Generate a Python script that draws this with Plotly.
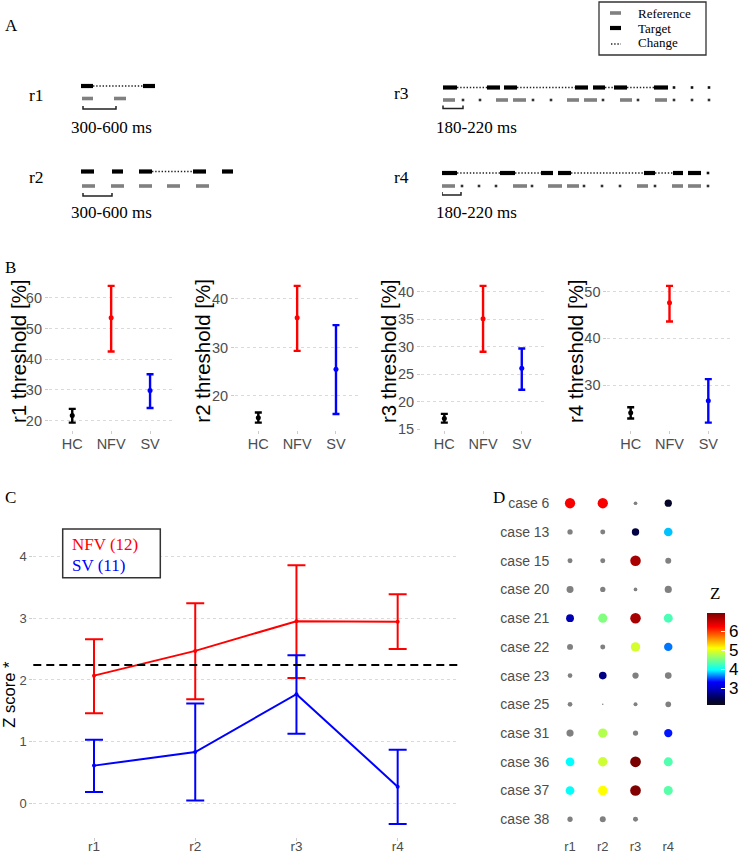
import numpy as np
import plotly.graph_objects as go

W, H = 750, 854


def px(x):
    return x / W


def py(y):
    return 1 - y / H


SERIF = "Liberation Serif, Times New Roman, serif"
SANS = "Liberation Sans, Arial, sans-serif"
GREY_TXT = "#4D4D4D"

# ---------------- Panel A: schematic sequences (time units from row onset) ----------------
R1_TARGET = [(0, 12), (62, 74)]
R1_CHANGE = [(12, 62)]
R1_REF = [(1, 12), (33, 45)]
R1_BRACKET = (2, 35)
R2_TARGET = [(0, 13), (31, 42), (58, 71), (112, 125), (141, 152)]
R2_CHANGE = [(71, 112)]
R2_REF = [(1, 14), (30, 43), (58, 71), (86, 99), (115, 128)]
R2_BRACKET = (2, 31)
R3_TARGET = [(1, 15), (45, 58), (62, 75), (133, 146), (151, 163), (172, 185), (212, 226)]
R3_CHANGE = [(15, 45), (75, 133), (163, 172), (185, 212)]
R3_TARGET_DOTS = [232, 250, 267]
R3_REF = [(1, 13), (54, 66), (71, 84), (125, 137), (142, 155), (178, 190), (213, 225)]
R3_REF_DOTS = [21, 38, 91, 109, 161, 196, 232, 250, 267]
R3_BRACKET = (1, 21)
R4_TARGET = [(0, 15), (58, 73), (99, 111), (116, 129), (202, 213), (231, 241), (246, 259)]
R4_CHANGE = [(15, 58), (73, 99), (129, 202), (213, 231)]
R4_TARGET_DOTS = [266]
R4_REF = [(0, 13), (71, 85), (106, 120), (125, 137), (195, 206), (230, 241), (246, 259)]
R4_REF_DOTS = [20, 37, 54, 90, 142, 160, 178, 213, 266]
R4_BRACKET = (0, 19)

# ---------------- Panel B: thresholds [%] ----------------
GROUPS = ["HC", "NFV", "SV"]
R1_MEAN = [21.6, 53.5, 29.8]
R1_LOW = [19.3, 42.5, 24.1]
R1_HIGH = [23.8, 63.9, 35.1]
R2_MEAN = [15.5, 36.1, 25.5]
R2_LOW = [14.5, 29.3, 16.3]
R2_HIGH = [16.6, 42.7, 34.6]
R3_MEAN = [16.95, 35.1, 26.1]
R3_LOW = [16.2, 29.1, 22.2]
R3_HIGH = [17.8, 41.1, 29.7]
R4_MEAN = [24.1, 47.6, 26.7]
R4_LOW = [22.9, 43.6, 22.0]
R4_HIGH = [25.3, 51.2, 31.3]
B_DTICK = [10, 10, 5, 10]

# ---------------- Panel C: Z scores ----------------
ROUNDS = ["r1", "r2", "r3", "r4"]
NFV_Z = [2.07, 2.47, 2.95, 2.94]
NFV_LOW = [1.46, 1.69, 2.03, 2.50]
NFV_HIGH = [2.66, 3.24, 3.855, 3.385]
SV_Z = [0.615, 0.835, 1.77, 0.275]
SV_LOW = [0.19, 0.05, 1.13, -0.33]
SV_HIGH = [1.035, 1.62, 2.40, 0.87]
THRESHOLD = 2.24

# ---------------- Panel D: single cases ----------------
CASES = ["case 6", "case 13", "case 15", "case 20", "case 21", "case 22",
         "case 23", "case 25", "case 31", "case 36", "case 37", "case 38"]
Z_R1 = [6.3, 0.51, 0.31, 1.94, 2.9, 1.03, 0.12, 0.12, 2.1, 3.98, 4.0, 0.51]
Z_R2 = [6.3, 0.31, 0.31, 0.51, 4.57, 0.31, 2.7, -0.81, 4.8, 4.92, 5.15, 1.03]
Z_R3 = [-0.37, 2.4, 6.75, -0.37, 6.75, 4.95, 1.29, -0.24, 0.51, 7.0, 6.95, 0.31]
Z_R4 = [2.25, 3.83, 1.03, 2.1, 4.32, 3.64, 1.65, 0.80, 3.4, 4.35, 4.38, None]
Z_CMIN, Z_CMAX = 2.13, 7.0

fig = go.Figure()

# ======================= Panel A =======================
ROW_Y = {"r1": (86, 98.5, 109), "r2": (171.5, 186, 196),
         "r3": (87.5, 100, 108.5), "r4": (173, 186, 195)}


def seg_xy(segs, y):
    xs, ys = [], []
    for a, b in segs:
        xs += [a, b, None]
        ys += [y, y, None]
    return xs, ys


def add_row(name, xa, target, change, ref, bracket, tdots=(), rdots=()):
    yt, yr, yb = ROW_Y[name]
    xs, ys = seg_xy(change, yt)
    fig.add_trace(go.Scatter(x=xs, y=ys, xaxis=xa, yaxis="y", mode="lines",
                             line=dict(color="#222", width=1.6, dash="1.4px,1.8px"),
                             hoverinfo="skip", showlegend=False))
    xs, ys = seg_xy(target, yt)
    fig.add_trace(go.Scatter(x=xs, y=ys, xaxis=xa, yaxis="y", mode="lines",
                             line=dict(color="#000", width=4.2), hoverinfo="skip", showlegend=False))
    xs, ys = seg_xy(ref, yr)
    fig.add_trace(go.Scatter(x=xs, y=ys, xaxis=xa, yaxis="y", mode="lines",
                             line=dict(color="#808080", width=3.6), hoverinfo="skip", showlegend=False))
    if tdots:
        fig.add_trace(go.Scatter(x=list(tdots), y=[yt] * len(tdots), xaxis=xa, yaxis="y",
                                 mode="markers", marker=dict(color="#111", size=2.6, symbol="square"),
                                 hoverinfo="skip", showlegend=False))
    if rdots:
        fig.add_trace(go.Scatter(x=list(rdots), y=[yr] * len(rdots), xaxis=xa, yaxis="y",
                                 mode="markers", marker=dict(color="#333", size=2.6, symbol="square"),
                                 hoverinfo="skip", showlegend=False))
    b0, b1 = bracket
    fig.add_trace(go.Scatter(x=[b0, b0, b1, b1], y=[yb - 3, yb, yb, yb - 3], xaxis=xa, yaxis="y",
                             mode="lines", line=dict(color="#222", width=1.5),
                             hoverinfo="skip", showlegend=False))


add_row("r1", "x", R1_TARGET, R1_CHANGE, R1_REF, R1_BRACKET)
add_row("r2", "x", R2_TARGET, R2_CHANGE, R2_REF, R2_BRACKET)
add_row("r3", "x2", R3_TARGET, R3_CHANGE, R3_REF, R3_BRACKET, R3_TARGET_DOTS, R3_REF_DOTS)
add_row("r4", "x2", R4_TARGET, R4_CHANGE, R4_REF, R4_BRACKET, R4_TARGET_DOTS, R4_REF_DOTS)

hidden = dict(visible=False, showgrid=False, zeroline=False, fixedrange=True)
layout_axes = {
    "xaxis": dict(domain=[px(81), px(381)], range=[0, 300], anchor="y", **hidden),
    "xaxis2": dict(domain=[px(442), px(742)], range=[0, 300], anchor="y", **hidden),
    "yaxis": dict(domain=[py(220), 1], range=[220, 0], anchor="x", **hidden),
}

annotations = []
shapes = []


def text(x, y, s, size, color="black", family=SERIF, xanchor="left", angle=0):
    annotations.append(dict(x=px(x), y=py(y), xref="paper", yref="paper", text=s,
                            showarrow=False, xanchor=xanchor, yanchor="middle",
                            textangle=angle, font=dict(size=size, color=color, family=family)))


text(3, 25, "A", 17)
text(27, 95, "r1", 17.5)
text(27, 177, "r2", 17.5)
text(392, 93, "r3", 17.5)
text(392, 177, "r4", 17.5)
text(69, 127, "300-600 ms", 17)
text(69, 213, "300-600 ms", 17)
text(434, 128, "180-220 ms", 17)
text(434, 213, "180-220 ms", 17)

# legend box of panel A
shapes.append(dict(type="rect", xref="paper", yref="paper", x0=px(599), x1=px(706),
                   y0=py(55), y1=py(2), line=dict(color="#333", width=1.3), fillcolor="white",
                   layer="below"))
shapes.append(dict(type="line", xref="paper", yref="paper", x0=px(610), x1=px(621),
                   y0=py(13), y1=py(13), line=dict(color="#808080", width=3.6)))
shapes.append(dict(type="line", xref="paper", yref="paper", x0=px(610), x1=px(621),
                   y0=py(28), y1=py(28), line=dict(color="#000", width=4.2)))
shapes.append(dict(type="line", xref="paper", yref="paper", x0=px(611), x1=px(621),
                   y0=py(44), y1=py(44), line=dict(color="#222", width=1.6, dash="1.4px,1.8px")))
text(636, 13, "Reference", 13)
text(636, 28, "Target", 13)
text(636, 43, "Change", 13)

# ======================= Panel B =======================
text(3, 267, "B", 17)
B_DATA = [(R1_MEAN, R1_LOW, R1_HIGH), (R2_MEAN, R2_LOW, R2_HIGH),
          (R3_MEAN, R3_LOW, R3_HIGH), (R4_MEAN, R4_LOW, R4_HIGH)]
B_XDOM = [(48.9, 173.4), (235.0, 359.3), (421.1, 545.0), (607.4, 731.6)]
B_TITLE_X = [18, 201.7, 388, 575]
G_COLORS = ["#000000", "#FF0000", "#0000FF"]
B_TOP, B_BOT = 279, 429.5

for i, ((m, lo, hi), (x0, x1)) in enumerate(zip(B_DATA, B_XDOM)):
    n = i + 3
    xa, ya = f"x{n}", f"y{n}"
    for g, c, mm, l, h in zip(GROUPS, G_COLORS, m, lo, hi):
        fig.add_trace(go.Scatter(
            x=[g], y=[mm], xaxis=xa, yaxis=ya, mode="markers",
            marker=dict(color=c, size=5),
            error_y=dict(type="data", symmetric=False, array=[h - mm], arrayminus=[mm - l],
                         color=c, thickness=2.4, width=3.5),
            showlegend=False))
    lo_all, hi_all = min(lo), max(hi)
    pad = (hi_all - lo_all) * 0.05
    layout_axes[f"xaxis{n}"] = dict(
        domain=[px(x0), px(x1)], anchor=ya, type="category", categoryorder="array",
        categoryarray=GROUPS, range=[-0.6, 2.6], showgrid=False, zeroline=False,
        ticks="outside", ticklen=3, tickcolor="#CCCCCC", tickwidth=1, ticklabelstandoff=-2,
        tickfont=dict(size=14.5, color=GREY_TXT, family=SANS), showline=False)
    layout_axes[f"yaxis{n}"] = dict(
        domain=[py(B_BOT), py(B_TOP)], anchor=xa, range=[lo_all - pad, hi_all + pad],
        dtick=B_DTICK[i], showgrid=True, gridcolor="#DADADA", griddash="dot", gridwidth=1,
        zeroline=False, ticks="outside", ticklen=3, tickcolor="#CCCCCC", tickwidth=1,
        tickfont=dict(size=14.5, color=GREY_TXT, family=SANS), showline=False)
    text(B_TITLE_X[i], 351, f"{ROUNDS[i]} threshold [%]", 20.5,
         family=SANS, xanchor="center", angle=-90)

# ======================= Panel C =======================
text(3, 497, "C", 17)
for name, z, lo, hi, c in [("NFV", NFV_Z, NFV_LOW, NFV_HIGH, "#FF0000"),
                            ("SV", SV_Z, SV_LOW, SV_HIGH, "#0000FF")]:
    fig.add_trace(go.Scatter(
        x=ROUNDS, y=z, xaxis="x7", yaxis="y7", mode="lines+markers",
        line=dict(color=c, width=2), marker=dict(color=c, size=4),
        error_y=dict(type="data", symmetric=False,
                     array=[h - v for h, v in zip(hi, z)],
                     arrayminus=[v - l for v, l in zip(z, lo)],
                     color=c, thickness=2, width=9),
        showlegend=False))
c_lo = min(SV_LOW + NFV_LOW)
c_hi = max(SV_HIGH + NFV_HIGH)
c_pad = (c_hi - c_lo) * 0.05
C_TOP, C_BOT = 552.3, 837.0
layout_axes["xaxis7"] = dict(
    domain=[px(33.3), px(458.4)], anchor="y7", type="category", categoryorder="array",
    categoryarray=ROUNDS, range=[-0.6, 3.6], showgrid=False, zeroline=False,
    ticks="outside", ticklen=3, tickcolor="#CCCCCC", tickwidth=1, ticklabelstandoff=-6,
    tickfont=dict(size=13.5, color=GREY_TXT, family=SANS), showline=False)
layout_axes["yaxis7"] = dict(
    domain=[py(C_BOT), py(C_TOP)], anchor="x7", range=[c_lo - c_pad, c_hi + c_pad],
    dtick=1, showgrid=True, gridcolor="#DADADA", griddash="dot", gridwidth=1,
    zeroline=False, ticks="outside", ticklen=3, tickcolor="#CCCCCC", tickwidth=1,
    tickfont=dict(size=13, color=GREY_TXT, family=SANS), showline=False)
shapes.append(dict(type="line", xref="x7 domain", yref="y7", x0=0, x1=1,
                   y0=THRESHOLD, y1=THRESHOLD, line=dict(color="#000", width=2, dash="8px,5px")))
text(9, (C_TOP + C_BOT) / 2, "Z score *", 16.5, family=SANS, xanchor="center", angle=-90)
shapes.append(dict(type="rect", xref="paper", yref="paper", x0=px(62.7), x1=px(160.3),
                   y0=py(577.7), y1=py(529), line=dict(color="#333", width=1.5),
                   fillcolor="white"))
text(70, 544, "NFV (12)", 17, color="#FF0000")
text(70, 565, "SV (11)", 17, color="#0000FF")

# ======================= Panel D =======================
text(491, 497, "D", 17)
Z_ALL = np.array([Z_R1, Z_R2, Z_R3, Z_R4], dtype=float)  # rounds x cases
zmin, zmax = np.nanmin(Z_ALL), np.nanmax(Z_ALL)
xs, ys, zs = [], [], []
for ri, r in enumerate(ROUNDS):
    for ci, cname in enumerate(CASES):
        v = Z_ALL[ri, ci]
        if np.isnan(v):
            continue
        xs.append(r)
        ys.append(cname)
        zs.append(v)
xs, ys, zs = np.array(xs), np.array(ys), np.array(zs)
sizes = 1.5 + 9.2 * np.sqrt((zs - zmin) / (zmax - zmin))
sig = zs >= Z_CMIN
fig.add_trace(go.Scatter(x=xs[~sig], y=ys[~sig], xaxis="x8", yaxis="y8", mode="markers",
                         marker=dict(color="#808080", size=sizes[~sig], opacity=1,
                                     line=dict(width=0)),
                         showlegend=False))
JET = [[0.0, "#0a0a14"], [0.07, "#000050"], [0.17, "#0000C0"], [0.25, "#0000FF"],
       [0.38, "#00FFFF"], [0.5, "#80FF80"], [0.62, "#FFFF00"], [0.85, "#FF0000"],
       [1.0, "#7A0000"]]
fig.add_trace(go.Scatter(
    x=xs[sig], y=ys[sig], xaxis="x8", yaxis="y8", mode="markers",
    marker=dict(color=zs[sig], size=sizes[sig], colorscale=JET, cmin=Z_CMIN, cmax=Z_CMAX,
                opacity=1, line=dict(width=0), showscale=True,
                colorbar=dict(x=px(706.7), xanchor="left", y=py(658.5), yanchor="middle",
                              len=91.6, lenmode="pixels", thickness=18, thicknessmode="pixels",
                              outlinewidth=0, ticks="inside", tickcolor="white", ticklen=4,
                              tickvals=[3, 4, 5, 6], xpad=0, ypad=0,
                              tickfont=dict(size=17, color="black", family=SANS),
                              title=dict(text=""))),
    showlegend=False))
text(715, 593, "Z", 17, xanchor="center")
layout_axes["xaxis8"] = dict(
    domain=[px(550.4), px(687.9)], anchor="y8", type="category", categoryorder="array",
    categoryarray=ROUNDS, range=[-0.6, 3.6], showgrid=False, zeroline=False, ticks="",
    tickfont=dict(size=13, color=GREY_TXT, family=SANS), showline=False)
layout_axes["yaxis8"] = dict(
    domain=[py(836.5), py(486)], anchor="x8", type="category", categoryorder="array",
    categoryarray=CASES, range=[len(CASES) - 0.4, -0.6], showgrid=False, zeroline=False,
    ticks="", tickfont=dict(size=14, color=GREY_TXT, family=SANS), showline=False)

fig.update_layout(
    width=W, height=H, margin=dict(l=0, r=0, t=0, b=0, autoexpand=False),
    paper_bgcolor="white", plot_bgcolor="white", showlegend=False,
    annotations=annotations, shapes=shapes, **layout_axes)

fig.write_html("out.html", config={"displayModeBar": False},
               post_script="document.body.style.margin='0px';document.body.style.overflow='hidden';")
